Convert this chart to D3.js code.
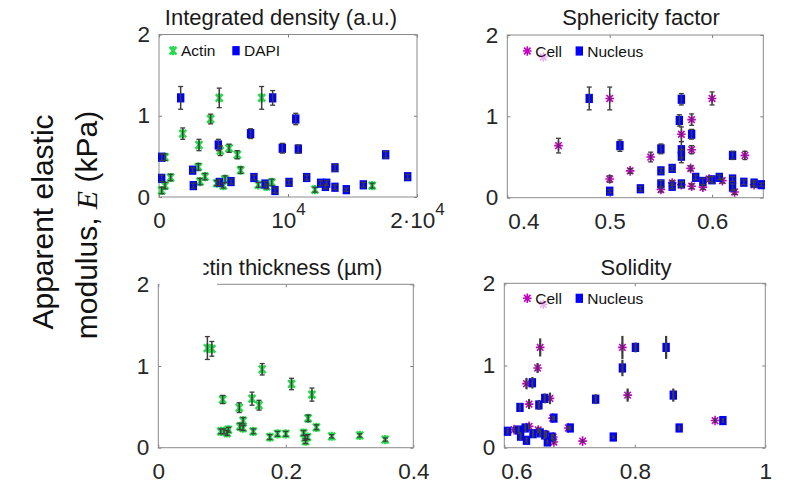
<!DOCTYPE html>
<html>
<head>
<meta charset="utf-8">
<script src="https://d3js.org/d3.v7.min.js"></script>
<style>
  body { margin: 0; background: #fff; }
  text { font-family: "Liberation Sans", Arial, sans-serif; }
</style>
</head>
<body>
<script>
// values: [x, E (kPa), error]
var densityActin = [
  [465, 0.49, 0.04], [210, 0.08, 0.04], [465, 0.14, 0.04], [900, 0.24, 0.04],
  [1840, 0.78, 0.07], [3050, 0.37, 0.04], [3100, 0.64, 0.07], [3180, 0.19, 0.04],
  [3570, 0.25, 0.04], [4000, 0.96, 0.06], [4470, 0.17, 0.03], [4670, 1.22, 0.12],
  [4750, 0.57, 0.06], [4990, 0.14, 0.03], [5120, 0.22, 0.04], [5430, 0.60, 0.05],
  [6070, 0.52, 0.05], [6330, 0.33, 0.04], [7960, 1.22, 0.14], [7700, 0.15, 0.03],
  [8350, 0.13, 0.03], [8740, 0.18, 0.04], [12090, 0.09, 0.03], [16530, 0.14, 0.03]
];
var densityDapi = [
  [209, 0.49, 0.04], [209, 0.23, 0.04], [1680, 1.22, 0.14], [2610, 0.33, 0.03],
  [2660, 0.14, 0.03], [4600, 0.64, 0.07], [4680, 0.18, 0.04], [5580, 0.19, 0.03],
  [7100, 0.78, 0.06], [7360, 0.24, 0.03], [8220, 0.16, 0.03], [8810, 1.22, 0.09],
  [8990, 0.08, 0.03], [9560, 0.60, 0.06], [10080, 0.18, 0.03], [10600, 0.96, 0.07],
  [10800, 0.59, 0.05], [11450, 0.24, 0.03], [12530, 0.17, 0.03], [13000, 0.17, 0.03],
  [12900, 0.13, 0.03], [13640, 0.36, 0.04], [13640, 0.12, 0.03], [14520, 0.09, 0.02],
  [15840, 0.15, 0.03], [17570, 0.52, 0.04], [19280, 0.25, 0.03]
];
var sphericityCell = [
  [0.45, 0.64, 0.09], [0.50, 1.22, 0.14], [0.50, 0.23, 0.04], [0.52, 0.33, 0.03],
  [0.54, 0.50, 0.06], [0.55, 0.10, 0.03], [0.561, 0.18, 0.03], [0.57, 0.78, 0.09],
  [0.57, 0.16, 0.03], [0.58, 0.96, 0.07], [0.58, 0.59, 0.05], [0.579, 0.36, 0.03],
  [0.58, 0.14, 0.03], [0.591, 0.13, 0.03], [0.60, 1.22, 0.08], [0.597, 0.23, 0.03],
  [0.61, 0.21, 0.03], [0.622, 0.07, 0.03], [0.632, 0.52, 0.05], [0.641, 0.16, 0.03]
];
var sphericityNucleus = [
  [0.48, 1.22, 0.14], [0.50, 0.08, 0.02], [0.51, 0.64, 0.07], [0.53, 0.11, 0.03],
  [0.55, 0.60, 0.06], [0.55, 0.33, 0.03], [0.55, 0.17, 0.04], [0.561, 0.36, 0.03],
  [0.561, 0.14, 0.03], [0.57, 1.21, 0.07], [0.568, 0.95, 0.07], [0.57, 0.59, 0.10],
  [0.57, 0.51, 0.08], [0.57, 0.17, 0.03], [0.58, 0.78, 0.06], [0.584, 0.25, 0.03],
  [0.591, 0.20, 0.04], [0.60, 0.22, 0.04], [0.607, 0.25, 0.03], [0.62, 0.52, 0.05],
  [0.62, 0.23, 0.03], [0.62, 0.13, 0.04], [0.631, 0.19, 0.03], [0.641, 0.18, 0.03],
  [0.648, 0.16, 0.02]
];
var thicknessActin = [
  [0.077, 1.22, 0.14], [0.084, 1.21, 0.09], [0.101, 0.59, 0.05], [0.098, 0.20, 0.03],
  [0.103, 0.20, 0.03], [0.110, 0.22, 0.03], [0.108, 0.18, 0.03], [0.127, 0.49, 0.06],
  [0.128, 0.26, 0.04], [0.133, 0.33, 0.04], [0.133, 0.24, 0.03], [0.147, 0.60, 0.08],
  [0.149, 0.20, 0.03], [0.158, 0.52, 0.06], [0.163, 0.96, 0.07], [0.175, 0.13, 0.03],
  [0.187, 0.17, 0.03], [0.200, 0.17, 0.03], [0.209, 0.78, 0.07], [0.228, 0.18, 0.03],
  [0.230, 0.12, 0.03], [0.231, 0.08, 0.03], [0.234, 0.13, 0.03], [0.235, 0.36, 0.04],
  [0.241, 0.65, 0.08], [0.248, 0.25, 0.03], [0.272, 0.14, 0.02], [0.316, 0.15, 0.02],
  [0.356, 0.10, 0.02]
];
var solidityCell = [
  [0.655, 1.22, 0.11], [0.651, 0.97, 0.06], [0.634, 0.78, 0.07], [0.638, 0.53, 0.06],
  [0.670, 0.60, 0.07], [0.674, 0.36, 0.03], [0.698, 0.24, 0.03], [0.720, 0.08, 0.02],
  [0.781, 1.22, 0.14], [0.789, 0.64, 0.08], [0.923, 0.33, 0.03], [0.615, 0.22, 0.04],
  [0.638, 0.26, 0.04], [0.652, 0.215, 0.04], [0.664, 0.16, 0.04], [0.675, 0.13, 0.04],
  [0.676, 0.07, 0.03]
];
var solidityNucleus = [
  [0.801, 1.22, 0.06], [0.848, 1.22, 0.14], [0.781, 0.97, 0.10], [0.643, 0.79, 0.07],
  [0.624, 0.49, 0.05], [0.653, 0.52, 0.06], [0.662, 0.60, 0.06], [0.676, 0.36, 0.03],
  [0.701, 0.24, 0.03], [0.740, 0.59, 0.06], [0.767, 0.13, 0.02], [0.859, 0.64, 0.08],
  [0.868, 0.24, 0.03], [0.935, 0.33, 0.03], [0.605, 0.20, 0.04], [0.622, 0.215, 0.05],
  [0.625, 0.14, 0.05], [0.634, 0.09, 0.04], [0.632, 0.24, 0.05], [0.644, 0.17, 0.05],
  [0.655, 0.18, 0.05], [0.662, 0.155, 0.05], [0.666, 0.07, 0.03], [0.673, 0.13, 0.04]
];

var titles = ['Integrated density (a.u.)', 'Sphericity factor', 'Actin thickness (\u00b5m)', 'Solidity'];
var xDomains = [[0, 20000], [0.4, 0.65], [0, 0.4], [0.6, 1]];
var xTicks = [[0, 10000, 20000], [0.4, 0.5, 0.6], [0, 0.2, 0.4], [0.6, 0.8, 1]];
var eDomain = [0, 2];
var eTicks = [0, 1, 2];

var W = 788, H = 487;
var colors = { actin: '#2ad84e', dapi: '#0000ff', cell: '#c400c4', err: '#3c3c3c' };

var layout = [
  { left: 159, right: 417, top: 34.5, bottom: 197, titleX: 281, titleY: 25, legendY: 50.7, legendX: [173, 236], shift: 0, caps: true },
  { left: 507.3, right: 763.3, top: 35, bottom: 197.7, titleX: 641, titleY: 25, legendY: 51, legendX: [527.3, 579.3], shift: 16, caps: true },
  { left: 158.3, right: 413.3, top: 284.3, bottom: 447.7, titleX: 283, titleY: 275, shift: 0, caps: true },
  { left: 504.3, right: 765.3, top: 283.3, bottom: 447.7, titleX: 636, titleY: 275, legendY: 298.3, legendX: [527.3, 579.3], shift: 12, caps: false }
];

var panels = [
  { series: [{ name: 'Actin', data: densityActin, marker: 'xstar', color: colors.actin },
             { name: 'DAPI', data: densityDapi, marker: 'square', color: colors.dapi }] },
  { series: [{ name: 'Cell', data: sphericityCell, marker: 'star', color: colors.cell },
             { name: 'Nucleus', data: sphericityNucleus, marker: 'square', color: colors.dapi }] },
  { series: [{ name: 'Actin', data: thicknessActin, marker: 'xstar', color: colors.actin }] },
  { series: [{ name: 'Cell', data: solidityCell, marker: 'star', color: colors.cell },
             { name: 'Nucleus', data: solidityNucleus, marker: 'square', color: colors.dapi }] }
];

var svg = d3.select('body').append('svg')
  .attr('width', W).attr('height', H)
  .style('background', '#fff');

function drawMarker(g, type, color) {
  if (type === 'square') {
    g.append('rect')
      .attr('x', -3.7).attr('y', -4.6)
      .attr('width', 7.4).attr('height', 9.2)
      .style('fill', color);
  } else if (type === 'xstar') {
    g.append('path')
      .attr('d', 'M-3.4,-3.8L3.4,3.8M-3.4,3.8L3.4,-3.8M0,-4.6V4.6')
      .style('fill', 'none').style('stroke', color).style('stroke-width', 2.5);
  } else {
    g.append('path')
      .attr('d', 'M-4.3,0H4.3M0,-4.8V4.8M-3.2,-3.4L3.2,3.4M-3.2,3.4L3.2,-3.4')
      .style('fill', 'none').style('stroke', color).style('stroke-width', 1.6);
  }
}

panels.forEach(function(panel, i) {
  var L = layout[i];
  var x = d3.scaleLinear().domain(xDomains[i]).range([L.left, L.right]);
  var y = d3.scaleLinear().domain(eDomain).range([L.bottom, L.top]);
  var g = svg.append('g').attr('class', 'panel');

  // axes, ticks inside like matlab
  var xb = g.append('g').attr('transform', 'translate(0,' + L.bottom + ')')
    .call(d3.axisBottom(x).tickValues(xTicks[i]).tickSizeInner(-3).tickSizeOuter(0).tickPadding(15)
      .tickFormat(i === 0 ? function(d) { return d === 0 ? '0' : (d === 10000 ? '10' : '2\u00b710'); } : d3.format('')));
  g.append('g').attr('transform', 'translate(0,' + L.top + ')')
    .call(d3.axisTop(x).tickValues(xTicks[i]).tickSize(-3).tickFormat(''));
  g.append('g').attr('transform', 'translate(' + L.left + ',0)')
    .call(d3.axisLeft(y).tickValues(eTicks).tickSizeInner(-3).tickSizeOuter(0).tickPadding(9)
      .tickFormat(d3.format('d')));
  g.append('g').attr('transform', 'translate(' + L.right + ',0)')
    .call(d3.axisRight(y).tickValues(eTicks).tickSize(-3).tickFormat(''));

  g.selectAll('.domain').remove();
  g.selectAll('.tick line').style('stroke', '#7f7f7f');
  g.selectAll('.tick text').style('font-size', '22.5px').style('fill', '#262626')
    .style('font-family', '"Liberation Sans", Arial, sans-serif');

  if (i === 0) {
    xb.selectAll('.tick text').filter(function(d) { return d > 0; })
      .append('tspan').attr('dy', -13).style('font-size', '17px').text('4');
  }
  if (L.shift) {
    xb.selectAll('.tick text').filter(function(d, k) { return k === 0; })
      .attr('dx', L.shift);
  }

  g.append('rect')
    .attr('x', L.left).attr('y', L.top)
    .attr('width', L.right - L.left).attr('height', L.bottom - L.top)
    .style('fill', 'none').style('stroke', '#8a8a8a').style('stroke-width', 1);

  g.append('text')
    .attr('x', L.titleX).attr('y', L.titleY)
    .attr('text-anchor', 'middle')
    .style('font-size', '22px').style('fill', '#1a1a1a')
    .text(titles[i]);

  // markers first, error bars on top
  panel.series.forEach(function(s) {
    s.data.forEach(function(p) {
      var m = g.append('g').attr('transform', 'translate(' + x(p[0]) + ',' + y(p[1]) + ')');
      drawMarker(m, s.marker, s.color);
    });
  });
  panel.series.forEach(function(s) {
    s.data.forEach(function(p) {
      var px = x(p[0]);
      g.append('line')
        .attr('x1', px).attr('x2', px)
        .attr('y1', y(p[1] - p[2])).attr('y2', y(p[1] + p[2]))
        .style('stroke', colors.err).style('stroke-width', L.caps ? 1.5 : 2.2);
      if (L.caps) {
        [p[1] - p[2], p[1] + p[2]].forEach(function(v) {
          g.append('line')
            .attr('x1', px - 2.5).attr('x2', px + 2.5)
            .attr('y1', y(v)).attr('y2', y(v))
            .style('stroke', colors.err).style('stroke-width', 1.3);
        });
      }
    });
  });

  if (L.legendX) {
    panel.series.forEach(function(s, k) {
      var lg = g.append('g').attr('transform', 'translate(' + L.legendX[k] + ',' + L.legendY + ')');
      drawMarker(lg, s.marker, s.color);
      lg.append('text').attr('x', 8).attr('y', 5.5)
        .style('font-size', '15.5px').style('fill', '#111')
        .text(s.name);
    });
    if (i > 0) {
      // faint leftover asterisk under the legend
      var ghost = g.append('g').attr('transform', 'translate(' + (L.legendX[0] + 16) + ',' + (L.legendY + 6) + ')')
        .style('opacity', 0.3);
      drawMarker(ghost, 'star', colors.cell);
    }
  }
});

// white patch over the start of the thickness title, as in the figure
svg.append('rect').attr('x', 150).attr('y', 252).attr('width', 53.5).attr('height', 29).style('fill', '#fff');
svg.append('rect').attr('x', 159.5).attr('y', 281).attr('width', 57.5).attr('height', 5.5).style('fill', '#fff');

// shared y label
svg.append('text')
  .attr('transform', 'translate(53,222) rotate(-90)')
  .attr('text-anchor', 'middle')
  .style('font-size', '30px').style('fill', '#111')
  .text('Apparent elastic');
var yl2 = svg.append('text')
  .attr('transform', 'translate(97,225) rotate(-90)')
  .attr('text-anchor', 'middle')
  .style('font-size', '30px').style('fill', '#111');
yl2.append('tspan').text('modulus, ');
yl2.append('tspan').style('font-family', '"Liberation Serif", "DejaVu Serif", serif').style('font-style', 'italic').text('E');
yl2.append('tspan').text(' (kPa)');
</script>
</body>
</html>
